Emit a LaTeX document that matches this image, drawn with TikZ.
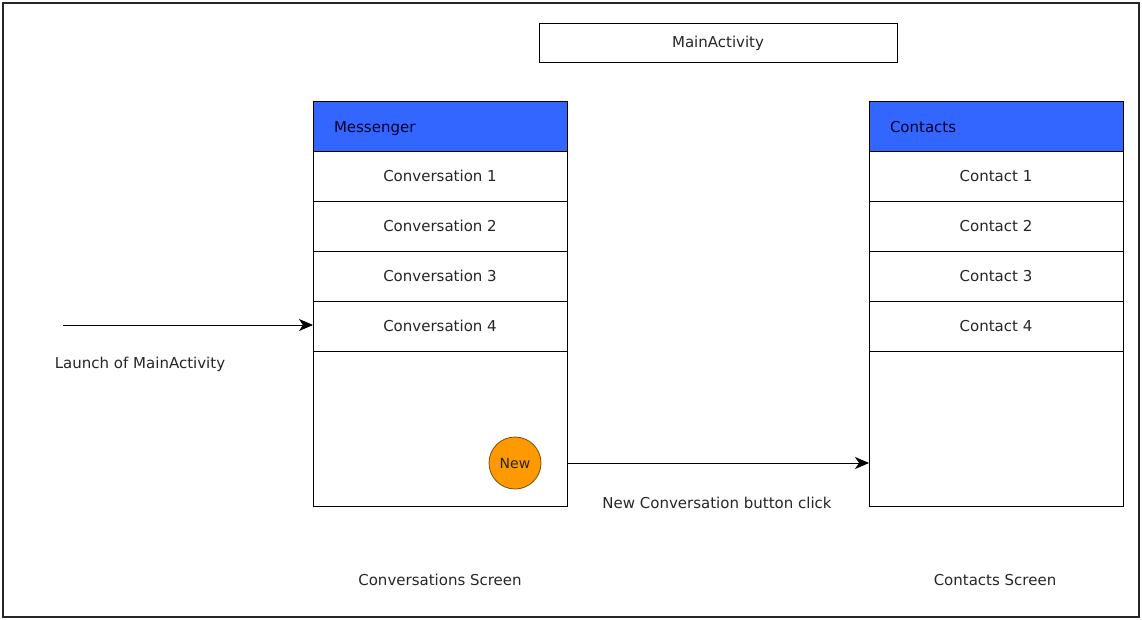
\documentclass[tikz,border=0pt]{standalone}
\usepackage{fontspec}
\setmainfont{DejaVu Sans}
\usetikzlibrary{positioning,arrows.meta}
\definecolor{hdrblue}  {HTML}{3366FF}
\definecolor{btnorange}{HTML}{FF9900}
\definecolor{btnedge}  {HTML}{7A4E12}
\definecolor{txtgrey}  {HTML}{262626}
\tikzset{
  row/.style   ={draw=black, line width=0.8pt, fill=white,
                 minimum width=254pt, minimum height=50pt,
                 inner sep=0pt, outer sep=0pt, text=txtgrey,
                 font=\fontsize{15}{18}\selectfont},
  hdr/.style   ={row, fill=hdrblue, text=black!85!blue,
                 text width=212pt, inner xsep=21pt, align=left,
                 text height=15pt, text depth=1pt},
  screen/.style={row, minimum height=155pt},
  newbtn/.style={circle, draw=btnedge, line width=0.8pt, fill=btnorange,
                 minimum size=52pt, inner sep=0pt, text=txtgrey,
                 font=\fontsize{14}{16}\selectfont},
  lbl/.style   ={text=txtgrey, inner sep=1pt,
                 font=\fontsize{15}{18}\selectfont},
  ar/.style    ={-{Stealth[length=14pt, width=12pt, inset=4pt]},
                 draw=black, line width=0.9pt}
}
\begin{document}
\begin{tikzpicture}[x=1pt, y=-1pt]
\useasboundingbox (0,0) rectangle (1142,620);
\draw[line width=2.6pt, draw=black!85] (3,3) rectangle (1139,617);

\node[row, minimum width=358pt, minimum height=39pt] (mainact) at (718,43) {MainActivity};

\node[hdr] (msghdr) at (440,126) {Messenger};
\node[row, below=0pt of msghdr] (conv1) {Conversation 1};
\node[row, below=0pt of conv1] (conv2) {Conversation 2};
\node[row, below=0pt of conv2] (conv3) {Conversation 3};
\node[row, below=0pt of conv3] (conv4) {Conversation 4};
\node[screen, below=0pt of conv4] (msgbody) {};
\node[newbtn] (newbtn) at (515,463) {New};

\node[hdr] (cthdr) at (996,126) {Contacts};
\node[row, below=0pt of cthdr] (ct1) {Contact 1};
\node[row, below=0pt of ct1] (ct2) {Contact 2};
\node[row, below=0pt of ct2] (ct3) {Contact 3};
\node[row, below=0pt of ct3] (ct4) {Contact 4};
\node[screen, below=0pt of ct4] (ctbody) {};

\coordinate (launch) at (63,325);
\draw[ar] (launch) -- (launch -| conv4.west);
\node[lbl] (launchlbl) at (140,364) {Launch of MainActivity};

\draw[ar] (msgbody.east |- newbtn) -- (ctbody.west |- newbtn);
\node[lbl] (newlbl) at (717,503) {New Conversation button click};

\node[lbl] (convscr) at (440,580) {Conversations Screen};
\node[lbl] (ctscr) at (995,580) {Contacts Screen};
\end{tikzpicture}
\end{document}
